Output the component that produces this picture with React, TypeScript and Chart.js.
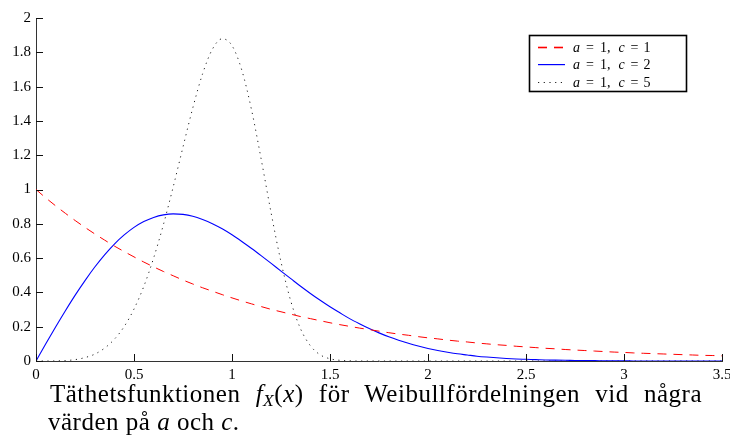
import React, { useEffect, useRef } from "react";
import { Chart, registerables } from "chart.js";

Chart.register(...registerables);

const xValues = [
  0, 0.05, 0.1, 0.15, 0.2, 0.25, 0.3, 0.35, 0.4, 0.45,
  0.5, 0.55, 0.6, 0.65, 0.7, 0.75, 0.8, 0.85, 0.9, 0.95,
  1.0, 1.05, 1.1, 1.15, 1.2, 1.25, 1.3, 1.35, 1.4, 1.45,
  1.5, 1.55, 1.6, 1.65, 1.7, 1.75, 1.8, 1.85, 1.9, 1.95,
  2.0, 2.05, 2.1, 2.15, 2.2, 2.25, 2.3, 2.35, 2.4, 2.45,
  2.5, 2.55, 2.6, 2.65, 2.7, 2.75, 2.8, 2.85, 2.9, 2.95,
  3.0, 3.05, 3.1, 3.15, 3.2, 3.25, 3.3, 3.35, 3.4, 3.45,
  3.5,
];

const seriesC1 = [
  1.0, 0.951, 0.905, 0.861, 0.819, 0.779, 0.741, 0.705, 0.67, 0.638,
  0.607, 0.577, 0.549, 0.522, 0.497, 0.472, 0.449, 0.427, 0.407, 0.387,
  0.368, 0.35, 0.333, 0.317, 0.301, 0.287, 0.273, 0.259, 0.247, 0.235,
  0.223, 0.212, 0.202, 0.192, 0.183, 0.174, 0.165, 0.157, 0.15, 0.142,
  0.135, 0.129, 0.122, 0.116, 0.111, 0.105, 0.1, 0.095, 0.091, 0.086,
  0.082, 0.078, 0.074, 0.071, 0.067, 0.064, 0.061, 0.058, 0.055, 0.052,
  0.05, 0.047, 0.045, 0.043, 0.041, 0.039, 0.037, 0.035, 0.033, 0.032,
  0.03,
];

const seriesC2 = [
  0, 0.1, 0.198, 0.293, 0.384, 0.469, 0.548, 0.619, 0.682, 0.735,
  0.779, 0.813, 0.837, 0.852, 0.858, 0.855, 0.844, 0.825, 0.801, 0.771,
  0.736, 0.697, 0.656, 0.613, 0.569, 0.524, 0.48, 0.436, 0.394, 0.354,
  0.316, 0.281, 0.247, 0.217, 0.189, 0.164, 0.141, 0.121, 0.103, 0.087,
  0.073, 0.061, 0.051, 0.042, 0.035, 0.028, 0.023, 0.019, 0.015, 0.012,
  0.01, 0.008, 0.006, 0.005, 0.004, 0.003, 0.002, 0.002, 0.001, 0.001,
  0.001, 0, 0, 0, 0, 0, 0, 0, 0, 0,
  0,
];

const seriesC5 = [
  0, 0, 0.0005, 0.0025, 0.008, 0.02, 0.04, 0.075, 0.127, 0.201,
  0.303, 0.435, 0.6, 0.795, 1.015, 1.248, 1.476, 1.675, 1.818, 1.879,
  1.839, 1.696, 1.463, 1.17, 0.861, 0.578, 0.349, 0.187, 0.089, 0.036,
  0.013, 0.004, 0.001, 0, 0, 0, 0, 0, 0, 0,
  0, 0, 0, 0, 0, 0, 0, 0, 0, 0,
  0, 0, 0, 0, 0, 0, 0, 0, 0, 0,
  0, 0, 0, 0, 0, 0, 0, 0, 0, 0,
  0,
];

const legendCValues = ["1", "2", "5"];
const xTickValues = [0, 0.5, 1, 1.5, 2, 2.5, 3, 3.5];
const yTickValues = [0, 0.2, 0.4, 0.6, 0.8, 1, 1.2, 1.4, 1.6, 1.8, 2];

const seriesColors = ["#ff0000", "#0000ff", "#222222"];
const seriesWidths = [1, 1.1, 1];
const seriesDashes = [[9, 7], [], [1.2, 4.5]];

const SERIF = '"Liberation Serif", "DejaVu Serif", serif';

const toPoints = (ys: number[]) => ys.map((y, i) => ({ x: xValues[i], y }));

const inwardTicks = {
  id: "inwardTicks",
  afterDatasetsDraw(chart: any) {
    const { ctx, chartArea, scales } = chart;
    ctx.save();
    ctx.strokeStyle = "#111";
    ctx.lineWidth = 1;
    ctx.setLineDash([]);
    ctx.beginPath();
    for (const v of xTickValues) {
      const px = Math.round(scales.x.getPixelForValue(v)) + 0.5;
      ctx.moveTo(px, chartArea.bottom);
      ctx.lineTo(px, chartArea.bottom - 7);
    }
    for (const v of yTickValues) {
      const py = Math.round(scales.y.getPixelForValue(v)) + 0.5;
      ctx.moveTo(chartArea.left, py);
      ctx.lineTo(chartArea.left + 7, py);
    }
    ctx.stroke();
    ctx.restore();
  },
};

const boxLegend = {
  id: "boxLegend",
  afterDraw(chart: any) {
    const { ctx } = chart;
    const bx = 529.5, by = 35.5, bw = 157, bh = 56;
    ctx.save();
    ctx.setLineDash([]);
    ctx.globalAlpha = 1;
    ctx.fillStyle = "#fff";
    ctx.fillRect(bx, by, bw, bh);
    ctx.strokeStyle = "#000";
    ctx.lineWidth = 1.6;
    ctx.strokeRect(bx, by, bw, bh);
    const rows = [47, 64, 82];
    const x0 = 538, x1 = 565;
    chart.data.datasets.forEach((_ds: any, i: number) => {
      const y = rows[i];
      ctx.fillStyle = seriesColors[i];
      const dash = seriesDashes[i];
      const h = i === 0 ? 1.6 : i === 1 ? 1.2 : 1;
      const yy = i === 0 ? y - 0.3 : y;
      if (dash.length === 0) {
        ctx.fillRect(x0, yy, x1 - x0, h);
      } else {
        let x = x0;
        let k = 0;
        while (x < x1) {
          const len = dash[k % dash.length];
          if (k % 2 === 0) ctx.fillRect(x, yy, Math.min(len, x1 - x), h);
          x += len;
          k++;
        }
      }
      const tokens: [string, boolean, number][] = [
        ["a", true, 6],
        ["=", false, 6],
        ["1", false, 0],
        [",", false, 8],
        ["c", true, 6],
        ["=", false, 5],
        [legendCValues[i], false, 0],
      ];
      let x = 573;
      ctx.fillStyle = "#000";
      ctx.textBaseline = "middle";
      ctx.textAlign = "left";
      for (const [t, it, gap] of tokens) {
        ctx.font = `${it ? "italic " : ""}14px ${SERIF}`;
        ctx.fillText(t, x, y + 1);
        x += ctx.measureText(t).width + gap;
      }
    });
    ctx.restore();
  },
};

function App() {
  const ref = useRef<HTMLCanvasElement | null>(null);
  useEffect(() => {
    if (!ref.current) return;
    const allSeries = [seriesC1, seriesC2, seriesC5];
    const chart = new Chart(ref.current, {
      type: "line",
      data: {
        datasets: allSeries.map((s, i) => ({
          label: `a = 1, c = ${legendCValues[i]}`,
          data: toPoints(s),
          borderColor: seriesColors[i],
          borderWidth: seriesWidths[i],
          borderDash: seriesDashes[i],
          pointRadius: 0,
          fill: false,
          cubicInterpolationMode: "monotone",
        })),
      },
      options: {
        animation: false,
        responsive: false,
        events: [],
        layout: { padding: { top: 18, right: 8, left: 0, bottom: 0 } },
        plugins: { legend: { display: false }, tooltip: { enabled: false } },
        scales: {
          x: {
            type: "linear",
            min: 0,
            max: 3.5,
            afterFit: (s: any) => {
              s.height = 77;
              s.paddingLeft = 0;
              s.paddingRight = 0;
            },
            afterBuildTicks: (s: any) => {
              s.ticks = xTickValues.map((v) => ({ value: v }));
            },
            grid: { display: true, drawOnChartArea: false, drawTicks: false },
            border: { display: true, color: "#333", width: 1 },
            ticks: {
              color: "#000",
              font: { family: SERIF, size: 15 },
              padding: 5,
              maxRotation: 0,
              autoSkip: false,
              callback: (v: any) => String(v),
            },
          },
          y: {
            type: "linear",
            min: 0,
            max: 2,
            afterFit: (s: any) => {
              s.width = 36;
              s.paddingTop = 0;
              s.paddingBottom = 0;
            },
            afterBuildTicks: (s: any) => {
              s.ticks = yTickValues.map((v) => ({ value: v }));
            },
            grid: { display: true, drawOnChartArea: false, drawTicks: false },
            border: { display: true, color: "#333", width: 1 },
            ticks: {
              color: "#000",
              font: { family: SERIF, size: 15 },
              padding: 5,
              autoSkip: false,
              callback: (v: any) => String(Math.round(v * 10) / 10),
            },
          },
        },
      },
      plugins: [inwardTicks, boxLegend],
    } as any);
    return () => chart.destroy();
  }, []);

  const captionStyle: React.CSSProperties = {
    position: "absolute",
    fontFamily: SERIF,
    fontSize: 25,
    letterSpacing: "0.5px",
    lineHeight: "28px",
    color: "#000",
    whiteSpace: "nowrap",
  };

  return (
    <div style={{ position: "absolute", left: 0, top: 0, width: 730, height: 438, background: "#fff", overflow: "hidden" }}>
      <canvas ref={ref} width={730} height={438} style={{ position: "absolute", left: 0, top: 0, width: 730, height: 438 }} />
      <div style={{ ...captionStyle, left: 50, top: 380, width: 652, whiteSpace: "normal", textAlign: "justify", textAlignLast: "justify" }}>
        Täthetsfunktionen{" "}
        <span style={{ whiteSpace: "nowrap" }}>
          <i>f</i>
          <i style={{ fontSize: "70%", verticalAlign: "-0.25em", lineHeight: 0 }}>X</i>
          (<i>x</i>)
        </span>{" "}
        för Weibullfördelningen vid några
      </div>
      <div style={{ ...captionStyle, left: 48, top: 408 }}>
        värden på <i>a</i> och <i>c</i>.
      </div>
    </div>
  );
}

export default App;
